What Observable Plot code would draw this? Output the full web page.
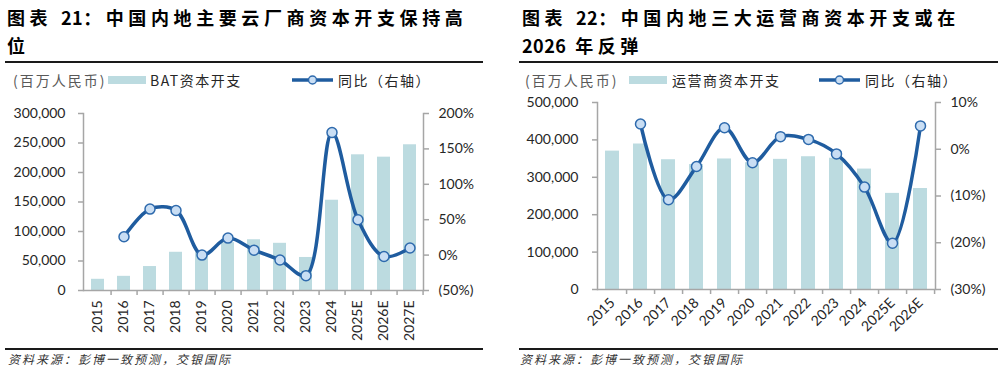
<!DOCTYPE html>
<html><head><meta charset="utf-8">
<script src="https://cdn.jsdelivr.net/npm/d3@7"></script>
<script src="https://cdn.jsdelivr.net/npm/@observablehq/plot@0.6"></script>
<style>
body{margin:0;background:#fff;}
#root{position:relative;width:1003px;height:372px;overflow:hidden;font-family:"Noto Sans CJK SC","Noto Sans",sans-serif;background:#fff;}
.title{position:absolute;top:3px;font-weight:700;font-size:18px;letter-spacing:4.6px;line-height:28px;color:#000;white-space:nowrap;}
.num{letter-spacing:0.5px;}
.rule{position:absolute;height:2px;background:#1a1a1a;}
.lg{position:absolute;font-size:14px;line-height:18px;top:71px;white-space:nowrap;color:#262626;letter-spacing:1.5px;}
.unit{color:#595959;letter-spacing:2px;}
.sw{position:absolute;top:76px;height:8px;background:#bcdbe0;}
.lsw{position:absolute;top:74px;}
.cap{position:absolute;top:350px;font-size:12px;font-style:italic;letter-spacing:2px;color:#333;white-space:nowrap;}
.chart{position:absolute;top:90px;width:500px;height:255px;}
.chart svg{position:absolute;left:0;top:0;overflow:visible;}
</style></head>
<body>
<div id="root">
  <div class="title" style="left:7px">图表 <span class="num">21</span>：中国内地主要云厂商资本开支保持高<br>位</div>
  <div class="title" style="left:522px">图表 <span class="num">22</span>：中国内地三大运营商资本开支或在<br><span class="num">2026</span> 年反弹</div>
  <div class="rule" style="left:5px;width:478px;top:61px"></div>
  <div class="rule" style="left:519px;width:479px;top:61px"></div>

  <div class="lg unit" style="left:13px">(百万人民币)</div>
  <div class="sw" style="left:108px;width:38px"></div>
  <div class="lg" style="left:150px">BAT资本开支</div>
  <svg class="lsw" style="left:292px" width="42" height="12"><line x1="0" y1="6" x2="41" y2="6" stroke="#1f5c9f" stroke-width="3.5"/><circle cx="20.5" cy="6" r="4" fill="#c9def4" stroke="#2e6aad" stroke-width="1.5"/></svg>
  <div class="lg" style="left:338px">同比（右轴）</div>

  <div class="lg unit" style="left:525px">(百万人民币)</div>
  <div class="sw" style="left:629px;width:38px"></div>
  <div class="lg" style="left:672px">运营商资本开支</div>
  <svg class="lsw" style="left:819px" width="42" height="12"><line x1="0" y1="6" x2="41" y2="6" stroke="#1f5c9f" stroke-width="3.5"/><circle cx="20.5" cy="6" r="4" fill="#c9def4" stroke="#2e6aad" stroke-width="1.5"/></svg>
  <div class="lg" style="left:865px">同比（右轴）</div>

  <div id="c1" class="chart" style="left:0px"></div>
  <div id="c2" class="chart" style="left:500px"></div>

  <div class="rule" style="left:5px;width:478px;top:348px"></div>
  <div class="rule" style="left:519px;width:479px;top:348px"></div>
  <div class="cap" style="left:8px">资料来源：彭博一致预测，交银国际</div>
  <div class="cap" style="left:520px">资料来源：彭博一致预测，交银国际</div>
</div>
<script>
// ---------- data ----------
const years1 = ["2015","2016","2017","2018","2019","2020","2021","2022","2023","2024","2025E","2026E","2027E"];
const capex1 = [19000,24000,40600,64800,65000,81000,86000,80000,56000,153000,230000,226000,247000];
const yoy1   = [null,0.26,0.65,0.63,0.00,0.24,0.07,-0.07,-0.29,1.73,0.50,-0.02,0.10];
const leftTicks1  = [0,50000,100000,150000,200000,250000,300000];
const rightTicks1 = [-0.5,0,0.5,1.0,1.5,2.0];

const years2 = ["2015","2016","2017","2018","2019","2020","2021","2022","2023","2024","2025E","2026E"];
const capex2 = [370000,389000,347000,334000,349000,339000,348000,355000,351000,322000,257000,270000];
const yoy2   = [null,0.054,-0.108,-0.037,0.046,-0.029,0.027,0.021,-0.010,-0.081,-0.201,0.050];
const leftTicks2  = [0,100000,200000,300000,400000,500000];
const rightTicks2 = [-0.3,-0.2,-0.1,0,0.1];

// ---------- style ----------
const barColor = "#bcdbe0";
const lineColor = "#1f5c9f";
const dotFill = "#c9def4";
const dotStroke = "#2e6aad";
const axisGray = "#a6a6a6";
const textColor = "#262626";
const numFmt = d3.format(",");
const pctFmt = v => {
  const p = Math.round(v * 100);
  return p < 0 ? `(${Math.abs(p)}%)` : `${p}%`;
};

function makeChart(el, cfg) {
  const rows = cfg.years.map((y, i) => ({year: y, capex: cfg.capex[i], yoy: cfg.yoy[i]}));
  const lineRows = rows.filter(d => d.yoy != null);
  const W = 500, H = 255;
  const step = (W - cfg.ml - cfg.mr) / cfg.years.length;
  const common = {
    width: W, height: H,
    marginTop: cfg.mt, marginBottom: cfg.mb, marginLeft: cfg.ml, marginRight: cfg.mr,
    style: {fontFamily: "Lato, 'Noto Sans', sans-serif", fontSize: "14px", color: textColor, background: "transparent", overflow: "visible"}
  };
  const xScale = {type: "band", domain: cfg.years, paddingInner: cfg.pad, paddingOuter: cfg.pad / 2, label: null};

  const bars = Plot.plot({
    ...common,
    x: xScale,
    y: {domain: cfg.yDomain, label: null},
    marks: [
      Plot.barY(rows, {x: "year", y: "capex", fill: barColor}),
      Plot.ruleY([0], {stroke: axisGray, strokeWidth: 1.5}),
      Plot.frame({anchor: "left", stroke: axisGray, strokeWidth: 1.5}),
      Plot.axisY({ticks: cfg.leftTicks, tickFormat: numFmt, tickSize: 5, tickPadding: cfg.lpad, stroke: axisGray, strokeWidth: 1.5, strokeOpacity: 1, fill: textColor, label: null}),
      Plot.axisX({tickSize: 5, tickFormat: () => "", dx: step / 2, stroke: axisGray, strokeWidth: 1.5, strokeOpacity: 1, label: null}),
      Plot.axisX({tickSize: 0, tickPadding: cfg.xpad, tickRotate: cfg.rot, fill: textColor, label: null})
    ]
  });

  const line = Plot.plot({
    ...common,
    x: {...xScale, axis: null},
    y: {domain: cfg.pDomain, label: null},
    marks: [
      Plot.frame({anchor: "right", stroke: axisGray, strokeWidth: 1.5}),
      Plot.axisY({anchor: "right", ticks: cfg.rightTicks, tickFormat: pctFmt, tickSize: 5, tickPadding: cfg.rpad, stroke: axisGray, strokeWidth: 1.5, strokeOpacity: 1, fill: textColor, label: null}),
      Plot.line(lineRows, {x: "year", y: "yoy", stroke: lineColor, strokeWidth: 3.5, curve: "catmull-rom"}),
      Plot.dot(lineRows, {x: "year", y: "yoy", r: 5, fill: dotFill, stroke: dotStroke, strokeWidth: 1.5})
    ]
  });
  el.appendChild(bars);
  el.appendChild(line);
}

makeChart(document.getElementById("c1"), {
  years: years1, capex: capex1, yoy: yoy1,
  leftTicks: leftTicks1, rightTicks: rightTicks1,
  yDomain: [0, 300000], pDomain: [-0.5, 2.0],
  mt: 23, mb: 55, ml: 83, mr: 77, pad: 0.5,
  lpad: 13, rpad: 10, xpad: 10, rot: -90
});
makeChart(document.getElementById("c2"), {
  years: years2, capex: capex2, yoy: yoy2,
  leftTicks: leftTicks2, rightTicks: rightTicks2,
  yDomain: [0, 500000], pDomain: [-0.3, 0.1],
  mt: 12, mb: 56, ml: 97, mr: 65, pad: 0.51,
  lpad: 14, rpad: 10, xpad: 11, rot: -45
});
</script>
</body></html>
